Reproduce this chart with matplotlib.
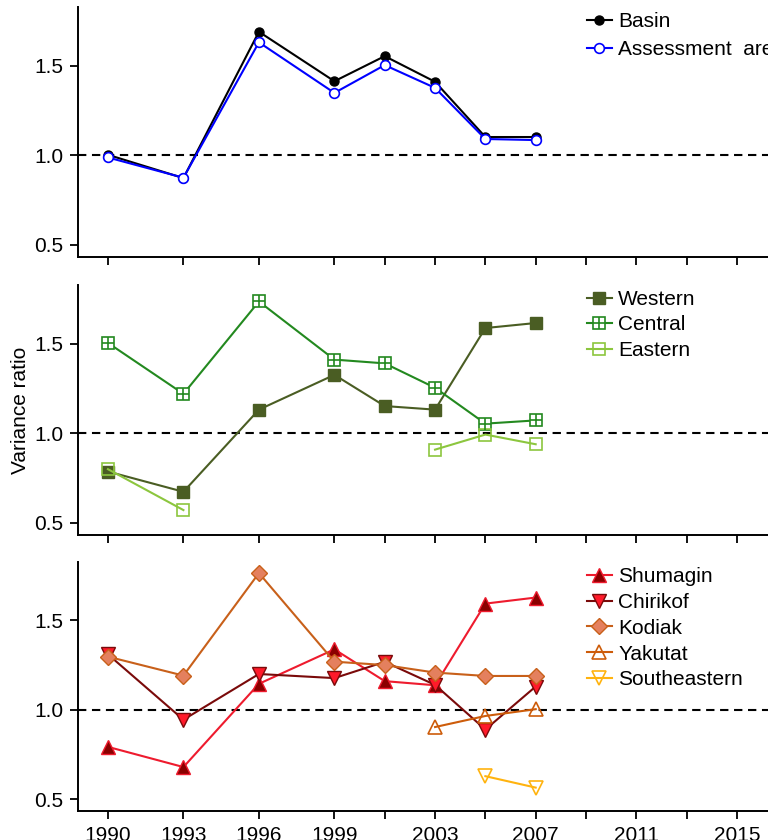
import numpy as np
import matplotlib
matplotlib.use("Agg")
import matplotlib.pyplot as plt

plt.rcParams['font.family'] = ['Liberation Sans', 'DejaVu Sans']

years = [1990, 1993, 1996, 1999, 2001, 2003, 2005, 2007]
tick_years = [1990, 1993, 1996, 1999, 2001, 2003, 2005, 2007, 2009, 2011, 2013, 2015]
tick_labels = ['1990', '1993', '1996', '1999', '', '2003', '', '2007', '', '2011', '', '2015']

nan = np.nan

# top panel
basin = [1.003, 0.873, 1.689, 1.413, 1.553, 1.410, 1.102, 1.102]
assessment = [0.988, 0.875, 1.630, 1.348, 1.503, 1.376, 1.091, 1.085]

# middle panel
western = [0.787, 0.674, 1.132, 1.326, 1.152, 1.132, 1.587, 1.615]
central = [1.504, 1.220, 1.735, 1.411, 1.390, 1.254, 1.054, 1.072]
eastern = [0.800, 0.572, nan, nan, nan, 0.909, 0.993, 0.939]

# bottom panel
shumagin = [0.792, 0.679, 1.145, 1.338, 1.160, 1.137, 1.594, 1.628]
chirikof = [1.310, 0.944, 1.200, 1.177, 1.268, 1.139, 0.889, 1.130]
kodiak = [1.297, 1.191, 1.765, 1.269, 1.250, 1.208, 1.189, 1.189]
yakutat = [nan, nan, nan, nan, nan, 0.903, 0.965, 1.003]
southeastern = [nan, nan, nan, nan, nan, nan, 0.628, 0.564]

fig = plt.figure(figsize=(7.68, 8.4), dpi=100)

W, H = 768.0, 840.0
x_left = 78
xlim = (1988.81, 2018.0)
px_per_year = 25.16
x_right = 108 + (xlim[1] - 1990) * px_per_year
tops = [7, 285, 562]
bottoms = [257, 535, 811]

axes = []
for t, b in zip(tops, bottoms):
    ax = fig.add_axes([x_left / W, 1 - b / H, (x_right - x_left) / W, (b - t) / H])
    axes.append(ax)

for i, ax in enumerate(axes):
    ax.set_xlim(*xlim)
    ax.set_ylim(0.433, 1.827)
    ax.axhline(1.0, color='black', lw=1.5, ls=(0, (4, 2.7)), zorder=1)
    for s in ['top', 'right']:
        ax.spines[s].set_visible(False)
    for s in ['left', 'bottom']:
        ax.spines[s].set_linewidth(1.4)
    ax.set_yticks([0.5, 1.0, 1.5])
    ax.set_yticklabels(['0.5', '1.0', '1.5'])
    ax.set_xticks(tick_years)
    if i == 2:
        ax.set_xticklabels(tick_labels)
    else:
        ax.set_xticklabels([])
    ax.tick_params(direction='out', length=5.5, width=1.3, labelsize=15, pad=5)

leg_kw = dict(loc='upper left', frameon=False, fontsize=15, handlelength=1.2,
              handletextpad=0.3, borderpad=0, borderaxespad=0, numpoints=1)

# panel 1
ax = axes[0]
ax.plot(years, basin, color='black', lw=1.5, marker='o', ms=6.5, label='Basin', zorder=3)
ax.plot(years, assessment, color='#0000ff', lw=1.5, marker='o', ms=7, mfc='white',
        mec='#0000ff', mew=1.2, label='Assessment  area', zorder=4)
ax.legend(bbox_to_anchor=(0.693, 0.98), labelspacing=0.45, **leg_kw)

# panel 2
ax = axes[1]
ax.set_ylabel('Variance ratio', fontsize=15, labelpad=3)
lw_ = ax.plot(years, western, color='#4a5d23', lw=1.5, marker='s', ms=8, mec='#4a5d23',
              label='Western', zorder=3)[0]
lc = ax.plot(years, central, color='#23891f', lw=1.5, marker='s', ms=8, mfc='white',
             mec='#23891f', mew=1.2, zorder=3)[0]
lc2 = ax.plot(years, central, color='#23891f', lw=0, marker='+', ms=8, mew=1.2, zorder=4)[0]
le = ax.plot(years, eastern, color='#8cc63e', lw=1.5, marker='s', ms=8, mfc='none',
             mec='#8cc63e', mew=1.2, zorder=3)[0]
ax.legend([lw_, (lc, lc2), le], ['Western', 'Central', 'Eastern'],
          bbox_to_anchor=(0.693, 0.98), labelspacing=0.31, **leg_kw)

# panel 3
ax = axes[2]
l1 = ax.plot(years, shumagin, color='#ee1b2e', lw=1.5, marker='^', ms=10, mfc='#8b0000',
             mec='#ee1b2e', mew=1.0, zorder=3)[0]
l2 = ax.plot(years, chirikof, color='#7a0a0a', lw=1.5, marker='v', ms=10, mfc='#ff1a2a',
             mec='#7a0a0a', mew=1.0, zorder=3)[0]
l3 = ax.plot(years, kodiak, color='#c8601a', lw=1.5, marker='D', ms=8, mfc='#e4805e',
             mec='#c8601a', mew=1.0, zorder=3)[0]
l4 = ax.plot(years, yakutat, color='#cd5c0a', lw=1.5, marker='^', ms=10, mfc='none',
             mec='#cd5c0a', mew=1.2, zorder=3)[0]
l5 = ax.plot(years, southeastern, color='#ffb30f', lw=1.5, marker='v', ms=10, mfc='none',
             mec='#ffb30f', mew=1.2, zorder=3)[0]
ax.legend([l1, l2, l3, l4, l5], ['Shumagin', 'Chirikof', 'Kodiak', 'Yakutat', 'Southeastern'],
          bbox_to_anchor=(0.693, 0.98), labelspacing=0.33, **leg_kw)

fig.savefig('out.png', dpi=100)
